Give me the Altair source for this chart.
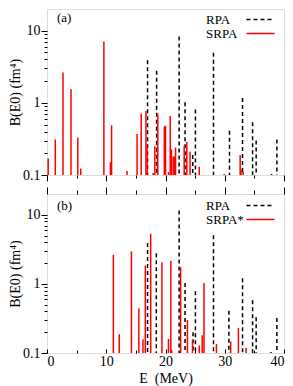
import altair as alt
import pandas as pd

FONT = "Liberation Serif"

# ---- panel (a) ----
rpa_a_E = [16.97, 18.5, 22.3, 23.3, 24.6, 25.05, 28.1, 30.8, 33.0, 34.7, 35.3, 37.9, 38.8]
rpa_a_B = [3.9, 2.78, 8.3, 1.02, 0.19, 0.81, 4.94, 0.41, 1.17, 0.54, 0.30, 0.103, 0.31]
srpa_a_E = [0.2, 1.4, 2.7, 4.05, 5.2, 5.7, 9.6, 10.7, 10.9, 13.5, 15.2, 15.9, 16.7, 16.9,
            17.9, 18.2, 18.7, 19.8, 20.0, 20.5, 20.8, 21.0, 21.3, 21.5, 21.7, 23.15, 23.6,
            24.15, 25.7, 29.9, 32.6, 32.75, 33.1]
srpa_a_B = [0.17, 0.31, 2.64, 1.55, 0.33, 0.123, 7.06, 0.15, 0.49, 0.114, 0.37, 0.71, 0.77, 0.25,
            0.107, 0.25, 0.71, 0.47, 0.48, 0.11, 0.66, 0.226, 0.18, 0.18, 0.24, 0.25, 0.29,
            0.21, 0.13, 0.103, 0.19, 0.12, 0.11]

# ---- panel (b) ----
rpa_b_E = [16.97, 18.45, 22.3, 23.3, 24.65, 25.05, 28.1, 30.7, 33.0, 34.7, 35.3, 37.8, 38.8]
rpa_b_B = [3.9, 2.78, 11.5, 1.03, 0.2, 0.78, 5.06, 0.41, 1.21, 0.58, 0.33, 0.103, 0.32]
srpa_b_E = [11.2, 12.2, 14.25, 15.5, 16.2, 16.6, 17.5, 19.4, 20.5, 20.9, 21.05, 22.55, 23.7,
            24.55, 25.7, 26.2, 26.5, 28.6, 31.0, 32.3, 33.6]
srpa_b_B = [2.65, 0.187, 2.95, 0.445, 0.158, 1.85, 5.3, 2.06, 0.16, 2.14, 0.11, 1.74, 0.30,
            0.153, 0.128, 0.18, 1.03, 0.135, 0.147, 0.23, 0.118]

x_major = [0, 10, 20, 30, 40]
x_minor = [5, 15, 25, 35]
y_major = [0.1, 1, 10]
y_minor = [0.2, 0.3, 0.4, 0.5, 0.6, 0.7, 0.8, 0.9, 2, 3, 4, 5, 6, 7, 8, 9]


def frame(e_r, b_r, e_s, b_s, name):
    return pd.DataFrame({
        "E": e_r + e_s,
        "B": b_r + b_s,
        "series": ["RPA"] * len(e_r) + [name] * len(e_s),
    })


x_scale = alt.Scale(domain=[0, 40], nice=False, zero=False)
y_scale = alt.Scale(type="log", domain=[0.1, 20], nice=False, clamp=True)

common_axis = dict(domain=False, grid=False, tickColor="black", tickWidth=1,
                   labelFont=FONT, labelFontSize=14, labelColor="black",
                   titleFont=FONT, titleFontSize=14, titleFontWeight="normal",
                   titleColor="black")


def ax(**kw):
    d = dict(common_axis)
    d.update(kw)
    return alt.Axis(**d)


def panel(df, name, tag, height, bottom, legend_y, tag_y):
    legend = alt.Legend(title=None, orient="none", legendX=207, legendY=legend_y,
                        symbolType="M-4,0L4,0", symbolSize=49, symbolStrokeWidth=1.5,
                        labelOffset={"expr": "-61"}, labelAlign="left", labelFont=FONT,
                        labelFontSize=13, labelColor="black", padding=0,
                        rowPadding=-3)
    color = alt.Color("series:N", scale=alt.Scale(domain=["RPA", name], range=["black", "red"]),
                      legend=legend)
    dash = alt.StrokeDash("series:N",
                          scale=alt.Scale(domain=["RPA", name], range=[[4, 3], [1, 0]]),
                          legend=legend)
    base = alt.Chart(df)
    y_major_axis = ax(values=y_major, tickSize=6, format="~g", labelPadding=1, orient="left",
                      title="B(E0) (fm⁴)", titlePadding=0)
    y_minor_axis = ax(values=y_minor, tickSize=3, labels=False, title=None, orient="left")
    if bottom:
        x_major_axis = ax(values=x_major, tickSize=4, offset=-4, labelPadding=1, orient="bottom",
                          title="E\u00a0 (MeV)", titlePadding=3)
        x_minor_axis = ax(values=x_minor, tickSize=3, offset=-3, labels=False, title=None,
                          orient="bottom")
    else:
        x_major_axis = ax(values=x_major, tickSize=6, labels=False, title=None, orient="bottom")
        x_minor_axis = ax(values=x_minor, tickSize=3, labels=False, title=None, orient="bottom")

    rules = base.mark_rule(strokeWidth=1.5).encode(
        x=alt.X("E:Q", scale=x_scale, axis=x_major_axis),
        y=alt.Y("B:Q", scale=y_scale, axis=y_major_axis),
        y2=alt.datum(0.1),
        color=color,
        strokeDash=dash,
    )
    minor = base.mark_point(opacity=0).encode(
        x=alt.X("E:Q", scale=x_scale, axis=x_minor_axis),
        y=alt.Y("B:Q", scale=y_scale, axis=y_minor_axis),
    )
    layers = [rules, minor]
    if bottom:
        top_major = base.mark_point(opacity=0).encode(
            x=alt.X("E:Q", scale=x_scale,
                    axis=ax(values=x_major, tickSize=7, labels=False, title=None, orient="top")),
            y=alt.Y("B:Q", scale=y_scale, axis=None),
        )
        top_minor = base.mark_point(opacity=0).encode(
            x=alt.X("E:Q", scale=x_scale,
                    axis=ax(values=x_minor, tickSize=4, labels=False, title=None, orient="top")),
            y=alt.Y("B:Q", scale=y_scale, axis=None),
        )
        layers += [top_major, top_minor]
    label = alt.Chart(pd.DataFrame({"t": [tag]})).mark_text(
        font=FONT, fontSize=13, align="left", baseline="middle", color="black"
    ).encode(text="t:N", x=alt.value(10), y=alt.value(tag_y))
    layers.append(label)
    return alt.layer(*layers).resolve_axis(x="independent", y="independent").properties(
        width=237, height=height)


top = panel(frame(rpa_a_E, rpa_a_B, srpa_a_E, srpa_a_B, "SRPA"), "SRPA", "(a)", 166, False, 4, 9)
bot = panel(frame(rpa_b_E, rpa_b_B, srpa_b_E, srpa_b_B, "SRPA*"), "SRPA*", "(b)", 159, True, 5, 12)

chart = alt.vconcat(top, bot, spacing=19, bounds="flush").resolve_scale(
    color="independent", strokeDash="independent"
).properties(
    padding={"left": 0, "top": 0, "right": 0, "bottom": 0}
).configure_view(stroke="black", strokeWidth=1).configure(font=FONT)

chart.save("out.html", embed_options={"renderer": "svg", "actions": False})
